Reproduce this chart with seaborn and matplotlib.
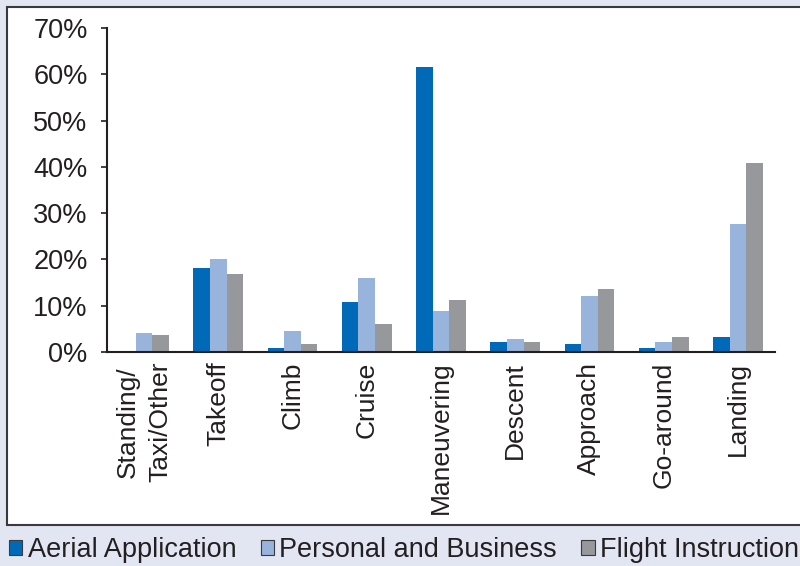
import pandas as pd
import numpy as np
import matplotlib.pyplot as plt
import seaborn as sns
from matplotlib.patches import Rectangle, Patch

# ===== DATA =====
phases = ['Standing/\nTaxi/Other', 'Takeoff', 'Climb', 'Cruise', 'Maneuvering',
          'Descent', 'Approach', 'Go-around', 'Landing']
aerial = [0.0, 18.1, 0.9, 10.8, 61.5, 2.2, 1.7, 0.9, 3.2]
personal = [4.1, 20.1, 4.5, 16.0, 8.9, 2.8, 12.1, 2.2, 27.6]
instruction = [3.7, 16.8, 1.7, 6.0, 11.2, 2.2, 13.6, 3.2, 40.8]
series = ['Aerial Application', 'Personal and Business', 'Flight Instruction']
colors = ['#006ab8', '#98b3dc', '#97989c']

df = pd.DataFrame({
    'Phase': phases * 3,
    'Type': [series[0]] * 9 + [series[1]] * 9 + [series[2]] * 9,
    'Pct': aerial + personal + instruction,
})

sns.set_style('white')
plt.rcParams['font.family'] = ['Liberation Sans', 'DejaVu Sans']
text_col = '#231f20'

fig = plt.figure(figsize=(8, 5.66), dpi=100)
fig.patch.set_facecolor('#e1e6f2')

# white panel with border (behind the axes)
fig.patches.append(Rectangle((7 / 800, 1 - 525 / 566), 1.0, 518 / 566,
                             transform=fig.transFigure, facecolor='white',
                             edgecolor='#3a3a3e', linewidth=1.5, zorder=-5))

ax = fig.add_axes([107 / 800, 1 - 352 / 566, 668 / 800, 324 / 566])
ax.set_facecolor('none')

sns.barplot(data=df, x='Phase', y='Pct', hue='Type', palette=colors,
            width=0.67, saturation=1, ax=ax, legend=False,
            linewidth=0, edgecolor='none')

ax.set_ylim(0, 70)
ax.set_xlim(-0.5, 8.5)
ax.set_yticks(range(0, 71, 10))
ax.set_yticklabels([f'{v}%' for v in range(0, 71, 10)], fontsize=19.5, color=text_col)
ax.set_xticks(range(len(phases)))
ax.set_xticklabels(phases, rotation=90, fontsize=19, color=text_col,
                   va='top', ha='center', linespacing=1.45)
ax.set_xlabel('')
ax.set_ylabel('')

sns.despine(ax=ax)
for s in ['left', 'bottom']:
    ax.spines[s].set_color(text_col)
    ax.spines[s].set_linewidth(1.5)
ax.tick_params(axis='y', direction='out', length=4, width=1.2, color=text_col, pad=10, left=True)
ax.tick_params(axis='x', length=0, pad=7)

handles = [Patch(facecolor=c, edgecolor='#3a3a3e', linewidth=0.8) for c in colors]
fig.legend(handles, series, loc='center', bbox_to_anchor=(0.505, 1 - 550 / 566),
           ncol=3, frameon=False, fontsize=19.5, handlelength=0.5, handleheight=0.5,
           handletextpad=0.2, columnspacing=0.9, labelcolor=text_col,
           borderpad=0, borderaxespad=0)

fig.savefig('out.png', dpi=100, facecolor=fig.get_facecolor())
